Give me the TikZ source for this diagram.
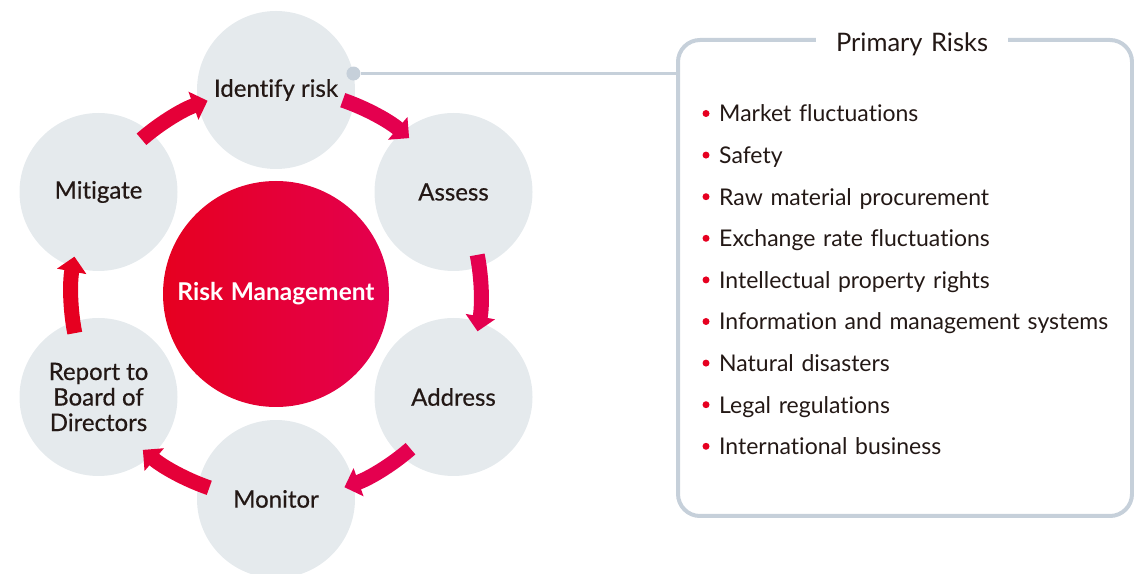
\documentclass[tikz,border=0pt]{standalone}
\usepackage{fontspec}
\setmainfont[WordSpace=1.3,Ligatures=NoCommon]{Lato}
\newfontfamily\medfont[FakeBold=0.5,Ligatures=NoCommon]{Lato}
\usetikzlibrary{arrows.meta,positioning}
\definecolor{ringgray}{RGB}{229,234,237}
\definecolor{framegray}{RGB}{198,208,218}
\definecolor{inkblack}{RGB}{35,24,21}
\definecolor{riskred}{RGB}{230,0,32}
\definecolor{riskpink}{RGB}{228,0,79}
\colorlet{riskmid}{riskred!50!riskpink}

\tikzset{
  stage/.style={circle,fill=ringgray,minimum size=158bp,inner sep=0pt,align=center,
    text=inkblack,font=\medfont\fontsize{24bp}{25.5bp}\selectfont},
  flow/.style={line width=15bp,-{Triangle[length=15bp,width=29bp]}},
  item/.style={anchor=base west,inner sep=0pt,text=inkblack,font=\fontsize{23bp}{26bp}\selectfont},
  bulletdot/.style={circle,fill=riskred,inner sep=0pt,minimum size=7bp},
}

\begin{document}
\begin{tikzpicture}
\useasboundingbox (0bp,0bp) rectangle (1134bp,574bp);
%% risk cycle
\node (rm) at (276bp,280bp) [circle,minimum size=226bp,left color=riskred,right color=riskpink,
  text=white,font=\bfseries\fontsize{24.5bp}{26bp}\selectfont] {Risk Management};
\node (ident) at (276bp,484bp) [stage] {Identify risk};
\node (assess) at (453.5bp,382bp) [stage] {Assess};
\node (address) at (453.5bp,177bp) [stage] {Address};
\node (monitor) at (276bp,75bp) [stage] {Monitor};
\node (report) at (98.5bp,177bp) [stage] {Report to\\Board of\\Directors};
\node (mitigate) at (98.5bp,382bp) [stage] {Mitigate};
%% arrows round the ring
\draw [flow,riskpink] ([shift={(71:205bp)}]rm.center) arc[start angle=71,end angle=49.5,radius=205bp];
\draw [flow,riskpink] ([shift={(11:205bp)}]rm.center) arc[start angle=11,end angle=-10.5,radius=205bp];
\draw [flow,riskpink] ([shift={(-49:205bp)}]rm.center) arc[start angle=-49,end angle=-70.5,radius=205bp];
\draw [flow,riskmid] ([shift={(-109:205bp)}]rm.center) arc[start angle=-109,end angle=-130.5,radius=205bp];
\draw [flow,riskred] ([shift={(-169:205bp)}]rm.center) arc[start angle=-169,end angle=-190.5,radius=205bp];
\draw [flow,riskmid] ([shift={(131:205bp)}]rm.center) arc[start angle=131,end angle=109.5,radius=205bp];
%% primary risks panel
\node (panel) at (905bp,296bp) [draw=framegray,line width=4bp,rounded corners=22bp,
  minimum width=454bp,minimum height=476bp] {};
\node (title) at (912bp,522bp) [anchor=base,fill=white,inner xsep=20bp,text=inkblack,
  font=\fontsize{25.5bp}{28bp}\selectfont] {Primary Risks};
\node (tap) at (ident.12.6) [circle,fill=framegray,minimum size=14bp,inner sep=0pt] {};
\draw [framegray,line width=3bp] (tap) -- (tap -| panel.west);
%% list of risks
\node (b1) at (706bp,460.5bp) [bulletdot] {};
\node (r1) at (719bp,452bp) [item] {Market fluctuations};
\node (b2) at (706bp,418.9bp) [bulletdot] {};
\node (r2) at (719bp,410.4bp) [item] {Safety};
\node (b3) at (706bp,377.3bp) [bulletdot] {};
\node (r3) at (719bp,368.8bp) [item] {Raw material procurement};
\node (b4) at (706bp,335.7bp) [bulletdot] {};
\node (r4) at (719bp,327.2bp) [item] {Exchange rate fluctuations};
\node (b5) at (706bp,294.1bp) [bulletdot] {};
\node (r5) at (719bp,285.6bp) [item] {Intellectual property rights};
\node (b6) at (706bp,252.5bp) [bulletdot] {};
\node (r6) at (719bp,244bp) [item] {Information and management systems};
\node (b7) at (706bp,210.9bp) [bulletdot] {};
\node (r7) at (719bp,202.4bp) [item] {Natural disasters};
\node (b8) at (706bp,169.3bp) [bulletdot] {};
\node (r8) at (719bp,160.8bp) [item] {Legal regulations};
\node (b9) at (706bp,127.7bp) [bulletdot] {};
\node (r9) at (719bp,119.2bp) [item] {International business};
%
\end{tikzpicture}
\end{document}
